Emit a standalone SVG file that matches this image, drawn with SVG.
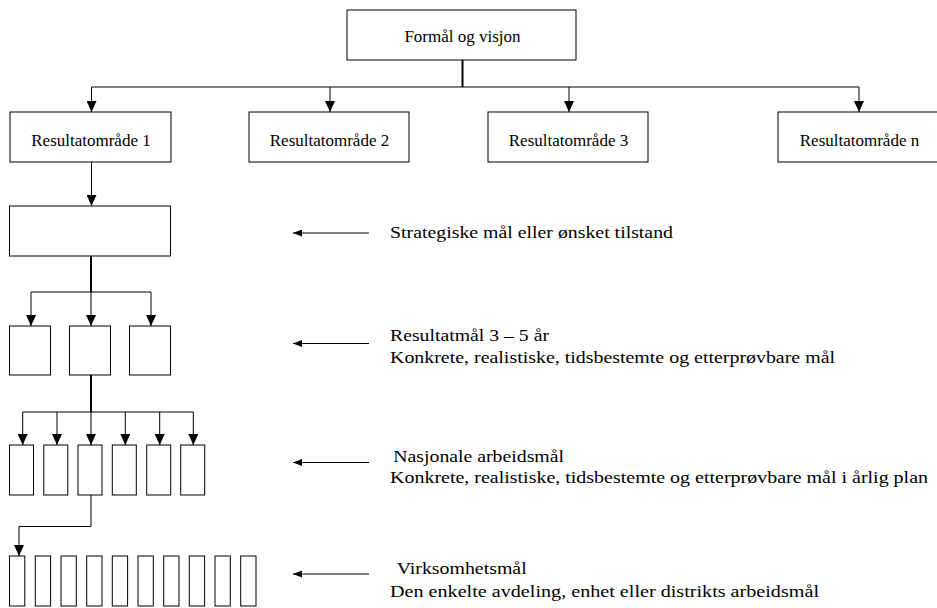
<svg xmlns="http://www.w3.org/2000/svg" width="937" height="608" viewBox="0 0 937 608">
<style>
.box{fill:#fff;stroke:#000;stroke-width:1}
.lbl{font-family:"Liberation Serif","Times New Roman",serif;font-size:17px;fill:#000}
.side{font-family:"Liberation Serif","Times New Roman",serif;font-size:17.5px;fill:#000}
.ln{fill:none;stroke:#000;stroke-width:1}
.trunk{fill:none;stroke:#000;stroke-width:2}
</style>
<defs>
<marker id="ah" markerWidth="11" markerHeight="10" refX="11" refY="5" orient="auto" markerUnits="userSpaceOnUse">
<path d="M0,0 L11,5 L0,10 Z" fill="#000"/>
</marker>
<marker id="sa" markerWidth="9" markerHeight="7" refX="9" refY="3.5" orient="auto" markerUnits="userSpaceOnUse">
<path d="M0,0 L9,3.5 L0,7 Z" fill="#000"/>
</marker>
</defs>
<rect width="937" height="608" fill="#fff"/>

<g id="connectors">
<path class="trunk" d="M462.5,60 V87"/>
<path class="ln" d="M91.5,87 H859"/>
<path class="ln" d="M91.5,87 V112" marker-end="url(#ah)"/>
<path class="ln" d="M330,87 V112" marker-end="url(#ah)"/>
<path class="ln" d="M569,87 V112" marker-end="url(#ah)"/>
<path class="ln" d="M859,87 V112" marker-end="url(#ah)"/>
<path class="ln" d="M91.5,162 V206" marker-end="url(#ah)"/>
<path class="trunk" d="M91,256 V292"/>
<path class="ln" d="M31,292 H151"/>
<path class="ln" d="M31,292 V326" marker-end="url(#ah)"/>
<path class="ln" d="M91,292 V326" marker-end="url(#ah)"/>
<path class="ln" d="M151,292 V326" marker-end="url(#ah)"/>
<path class="trunk" d="M91,375 V412"/>
<path class="ln" d="M22.7,412 H193.3"/>
<path class="ln" d="M22.7,412 V445" marker-end="url(#ah)"/>
<path class="ln" d="M57,412 V445" marker-end="url(#ah)"/>
<path class="ln" d="M91,412 V445" marker-end="url(#ah)"/>
<path class="ln" d="M125.3,412 V445" marker-end="url(#ah)"/>
<path class="ln" d="M159.7,412 V445" marker-end="url(#ah)"/>
<path class="ln" d="M193.3,412 V445" marker-end="url(#ah)"/>
<path class="ln" d="M91,495 V526.5 H19 V556" marker-end="url(#ah)"/>
<path class="ln" d="M369,233 H293" marker-end="url(#sa)"/>
<path class="ln" d="M369,343.5 H293" marker-end="url(#sa)"/>
<path class="ln" d="M369,462.5 H293" marker-end="url(#sa)"/>
<path class="ln" d="M369,574 H293" marker-end="url(#sa)"/>
</g>

<g id="formal">
<rect class="box" x="347" y="10" width="229" height="50"/>
<text class="lbl" x="462.5" y="41.7" text-anchor="middle">Formål og visjon</text>
</g>
<g id="ro1">
<rect class="box" x="10" y="112" width="161" height="50"/>
<text class="lbl" x="91" y="145.7" text-anchor="middle">Resultatområde 1</text>
</g>
<g id="ro2">
<rect class="box" x="249" y="112" width="160" height="50"/>
<text class="lbl" x="329.5" y="145.7" text-anchor="middle">Resultatområde 2</text>
</g>
<g id="ro3">
<rect class="box" x="488" y="112" width="160" height="50"/>
<text class="lbl" x="568.5" y="145.7" text-anchor="middle">Resultatområde 3</text>
</g>
<g id="ron">
<rect class="box" x="778" y="112" width="160" height="50"/>
<text class="lbl" x="859.5" y="145.7" text-anchor="middle">Resultatområde n</text>
</g>
<g id="strategisk">
<rect class="box" x="9.5" y="206" width="161" height="50"/>
</g>
<g id="rm1"><rect class="box" x="9.5" y="326" width="41" height="49"/></g>
<g id="rm2"><rect class="box" x="69.5" y="326" width="41" height="49"/></g>
<g id="rm3"><rect class="box" x="129.5" y="326" width="41" height="49"/></g>
<g id="am1"><rect class="box" x="9.5" y="445" width="24" height="50"/></g>
<g id="am2"><rect class="box" x="43.8" y="445" width="24" height="50"/></g>
<g id="am3"><rect class="box" x="78" y="445" width="24" height="50"/></g>
<g id="am4"><rect class="box" x="112.3" y="445" width="24" height="50"/></g>
<g id="am5"><rect class="box" x="146.7" y="445" width="24" height="50"/></g>
<g id="am6"><rect class="box" x="180.7" y="445" width="24" height="50"/></g>
<g id="vm1"><rect class="box" x="9.5" y="556" width="15.3" height="50"/></g>
<g id="vm2"><rect class="box" x="35.3" y="556" width="15.3" height="50"/></g>
<g id="vm3"><rect class="box" x="61" y="556" width="15.3" height="50"/></g>
<g id="vm4"><rect class="box" x="86.7" y="556" width="15.3" height="50"/></g>
<g id="vm5"><rect class="box" x="112.3" y="556" width="15.3" height="50"/></g>
<g id="vm6"><rect class="box" x="138" y="556" width="15.3" height="50"/></g>
<g id="vm7"><rect class="box" x="163.7" y="556" width="15.3" height="50"/></g>
<g id="vm8"><rect class="box" x="189.3" y="556" width="15.3" height="50"/></g>
<g id="vm9"><rect class="box" x="215" y="556" width="15.3" height="50"/></g>
<g id="vm10"><rect class="box" x="240.7" y="556" width="15.3" height="50"/></g>

<g id="labels">
<text class="side" x="390" y="238.3" textLength="283" lengthAdjust="spacingAndGlyphs">Strategiske mål eller ønsket tilstand</text>
<text class="side" x="390" y="341" textLength="159" lengthAdjust="spacingAndGlyphs">Resultatmål 3 – 5 år</text>
<text class="side" x="390" y="363" textLength="445" lengthAdjust="spacingAndGlyphs">Konkrete, realistiske, tidsbestemte og etterprøvbare mål</text>
<text class="side" x="393.3" y="461.5" textLength="170.7" lengthAdjust="spacingAndGlyphs">Nasjonale arbeidsmål</text>
<text class="side" x="390" y="483" textLength="538" lengthAdjust="spacingAndGlyphs">Konkrete, realistiske, tidsbestemte og etterprøvbare mål i årlig plan</text>
<text class="side" x="396.7" y="574" textLength="130" lengthAdjust="spacingAndGlyphs">Virksomhetsmål</text>
<text class="side" x="390" y="596.5" textLength="429" lengthAdjust="spacingAndGlyphs">Den enkelte avdeling, enhet eller distrikts arbeidsmål</text>
</g>
</svg>
